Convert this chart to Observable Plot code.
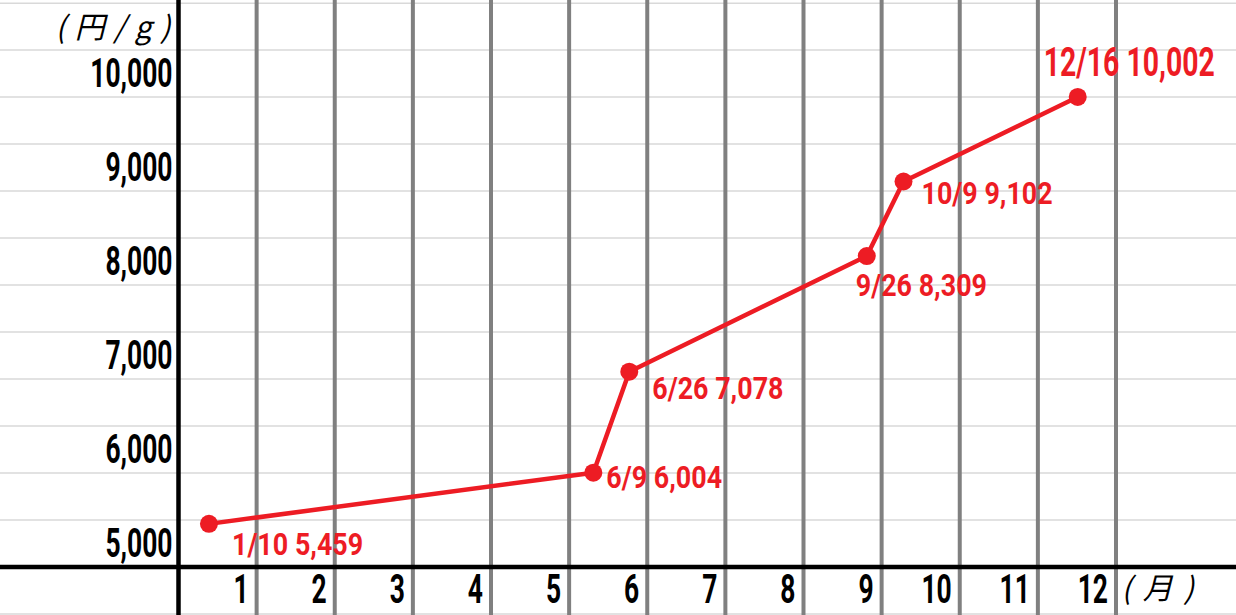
<!DOCTYPE html>
<html><head><meta charset="utf-8">
<script src="https://cdn.jsdelivr.net/npm/d3@7"></script>
<script src="https://cdn.jsdelivr.net/npm/@observablehq/plot@0.6"></script>
<style>
html,body{margin:0;padding:0;background:#fff;overflow:hidden;}
#chart svg{display:block;}
</style></head><body><div id="chart"></div>
<script>
// ---- data ----
const dateLabels = ["1/10", "6/9", "6/26", "9/26", "10/9", "12/16"];
const monthPos   = [0.39, 5.31, 5.77, 8.81, 9.28, 11.51];   // position along the month axis
const prices     = [5459, 6004, 7078, 8309, 9102, 10002];    // 円/g
const priceLabels = ["5,459", "6,004", "7,078", "8,309", "9,102", "10,002"];
const monthTicks  = [1, 2, 3, 4, 5, 6, 7, 8, 9, 10, 11, 12];
const monthLabels = ["1", "2", "3", "4", "5", "6", "7", "8", "9", "10", "11", "12"];
const yTicks      = [5000, 6000, 7000, 8000, 9000, 10000];
const yTickLabels = ["5,000", "6,000", "7,000", "8,000", "9,000", "10,000"];
const yUnit = "(円/g)";
const xUnit = "(月)";

// ---- layout / style ----
const RED = "#ED1C24";
const FONT = "Roboto,'Liberation Sans',sans-serif";
const CJK = "'Noto Sans CJK JP','Noto Sans',sans-serif";
const labelOffsets = [[23, 21], [13, 5], [23, 17], [-11, 30], [18, 12], [-34, -34]];
const labelSizes = [32, 32, 32, 32, 32, 40];
const labelSqueeze = [0.84, 0.84, 0.84, 0.84, 0.84, 0.71];

const points = prices.map((v, i) => ({m: monthPos[i], v, label: `${dateLabels[i]} ${priceLabels[i]}`}));
const gridValues = d3.range(4500, 11001, 500);

const pointLabels = points.map((d, i) => Plot.text([d], {
  x: "m", y: "v", text: "label", textAnchor: "start",
  dx: labelOffsets[i][0], dy: labelOffsets[i][1],
  fill: RED, fontSize: labelSizes[i], fontWeight: "bold", fontFamily: FONT,
  ariaDescription: "point-label-" + i
}));

const plot = Plot.plot({
  width: 1236, height: 615,
  marginTop: 0, marginRight: 0, marginBottom: 0, marginLeft: 0,
  x: {domain: [0, 12], range: [178, 1115.5], axis: null},
  y: {domain: [4484, 11028], range: [615, 0], axis: null},
  style: {background: "#fff", overflow: "visible"},
  marks: [
    Plot.ruleY(gridValues, {stroke: "#d9d9d9", strokeWidth: 1.5}),
    Plot.ruleX(monthTicks, {stroke: "#808080", strokeWidth: 4}),
    Plot.ruleX([0], {stroke: "#000", strokeWidth: 4.5}),
    Plot.ruleY([5000], {stroke: "#000", strokeWidth: 4.5}),
    Plot.line(points, {x: "m", y: "v", stroke: RED, strokeWidth: 4.5}),
    Plot.dot(points, {x: "m", y: "v", r: 9, fill: RED}),
    ...pointLabels,
    Plot.text(yTicks, {
      x: () => 0, y: d => d, text: (d, i) => yTickLabels[i],
      textAnchor: "end", lineAnchor: "middle", dx: -6, dy: -22.5,
      fill: "#000", fontSize: 40, fontWeight: "bold", fontFamily: FONT,
      ariaDescription: "ytick-labels"
    }),
    Plot.text(monthTicks, {
      x: d => d, text: (d, i) => monthLabels[i], frameAnchor: "bottom",
      textAnchor: "end", lineAnchor: "middle", dx: -8, dy: -25,
      fill: "#000", fontSize: 40, fontWeight: "bold", fontFamily: FONT,
      ariaDescription: "xtick-labels"
    }),
    Plot.text([yUnit], {
      frameAnchor: "top-left", textAnchor: "start", lineAnchor: "middle", dx: 55, dy: 28,
      fill: "#000", fontSize: 30, fontStyle: "italic", fontWeight: 400, fontFamily: CJK,
      ariaDescription: "y-unit"
    }),
    Plot.text([xUnit], {
      frameAnchor: "bottom-left", textAnchor: "start", lineAnchor: "middle", dx: 1121, dy: -26,
      fill: "#000", fontSize: 30, fontStyle: "italic", fontWeight: 400, fontFamily: CJK,
      ariaDescription: "x-unit"
    })
  ]
});
document.getElementById("chart").appendChild(plot);

// condense text horizontally about its anchor (emulates the condensed face of the reference)
function squeeze(sel, sx, anchor) {
  d3.select(plot).selectAll(sel).each(function() {
    const b = this.getBBox();
    const ax = anchor === "end" ? b.x + b.width : b.x;
    const old = this.getAttribute("transform") || "";
    this.setAttribute("transform", `${old} translate(${ax},0) scale(${sx},1) translate(${-ax},0)`);
  });
}
squeeze('g[aria-description="ytick-labels"] text', 0.66, "end");
squeeze('g[aria-description="xtick-labels"] text', 0.66, "end");
labelSqueeze.forEach((s, i) => squeeze(`g[aria-description="point-label-${i}"] text`, s, "start"));
d3.select(plot).selectAll('g[aria-description="y-unit"] text').attr("letter-spacing", "9px");
d3.select(plot).selectAll('g[aria-description="x-unit"] text').attr("letter-spacing", "11px");
</script>
</body></html>
